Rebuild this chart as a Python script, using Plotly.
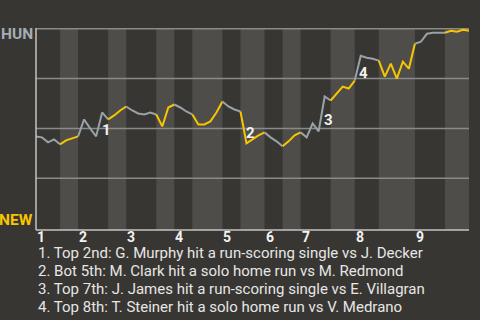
import plotly.graph_objects as go

# ---------------- data ----------------
# cumulative plate-appearance index at the end of each half inning
half_inning_ends = [0, 4, 7, 12, 15, 20, 23, 26, 31, 34, 38, 41, 44, 49, 53, 57, 63, 68, 72]
inning_labels = ["1", "2", "3", "4", "5", "6", "7", "8", "9"]
# HUN win probability (%) after each plate appearance
win_prob = [46, 45.5, 43, 44.5, 42, 44, 45, 46, 54.5, 50,
            46, 58, 54.5, 56.5, 59, 61, 59, 57.5, 57, 58,
            57, 51, 60.5, 62, 60.5, 58.5, 57, 52, 52, 53.5,
            58, 63.5, 61, 59.5, 58.5, 42.5, 44.5, 46.5, 48, 45.5,
            43.5, 41, 43.5, 46.5, 48, 45.5, 52.5, 48.5, 66, 64,
            67.5, 71, 70, 74, 86.5, 85.5, 85, 84, 76, 82.5,
            75, 83.5, 80, 92.5, 93.5, 97.5, 98, 98, 98, 99,
            98.5, 99.5, 99]
event_marks = ["1", "2", "3", "4"]
event_index = [11, 35, 48, 54]
event_texts = [
    "Top 2nd: G. Murphy hit a run-scoring single vs J. Decker",
    "Bot 5th: M. Clark hit a solo home run vs M. Redmond",
    "Top 7th: J. James hit a run-scoring single vs E. Villagran",
    "Top 8th: T. Steiner hit a solo home run vs V. Medrano",
]
team_top = "HUN"
team_bottom = "NEW"

# ---------------- style ----------------
BG = "#383632"
BAND = "#4e4d4a"
GRID = "#8a8a88"
AXIS = "#c4c4c4"
YELLOW = "#f7c600"
GRAY = "#9aa2a7"

W, H = 480, 320
L, R, T, B = 36, 469, 28, 230  # plot area in pixels
px = lambda x: (x - L) / (R - L)
py = lambda y: (B - y) / (B - T)

fig = go.Figure()

# line, one segment per half inning (top halves gray, bottom halves yellow)
for k in range(len(half_inning_ends) - 1):
    a, b = half_inning_ends[k], half_inning_ends[k + 1]
    fig.add_trace(go.Scatter(
        x=list(range(a, b + 1)), y=win_prob[a:b + 1], mode="lines",
        line=dict(color=GRAY if k % 2 == 0 else YELLOW, width=2),
        hoverinfo="skip", showlegend=False))

shapes = []
# lighter bands for bottom halves
for k in range(1, len(half_inning_ends) - 1, 2):
    shapes.append(dict(type="rect", xref="x", yref="paper",
                       x0=half_inning_ends[k], x1=half_inning_ends[k + 1],
                       y0=0, y1=1, fillcolor=BAND, line=dict(width=0), layer="below"))
# horizontal grid lines
for yv in [100, 75, 50, 25]:
    shapes.append(dict(type="line", xref="paper", yref="y", x0=0, x1=1,
                       y0=yv, y1=yv, line=dict(color=GRID, width=1.5), layer="below"))
# axes
shapes.append(dict(type="line", xref="paper", yref="paper", x0=0, x1=0, y0=0, y1=1,
                   line=dict(color=AXIS, width=1.5)))
shapes.append(dict(type="line", xref="paper", yref="paper", x0=0, x1=1, y0=0, y1=0,
                   line=dict(color=AXIS, width=1.5)))

annotations = []
# inning labels at start of each top half
for i, lab in enumerate(inning_labels):
    annotations.append(dict(x=half_inning_ends[2 * i], y=py(237), xref="x", yref="paper",
                            text=f"<b>{lab}</b>", showarrow=False, xanchor="left",
                            yanchor="middle", xshift=-1,
                            font=dict(family="Roboto", size=14, color="#f2f2f2")))
# team labels
annotations.append(dict(x=px(35), y=py(33.5), xref="paper", yref="paper",
                        text=f"<b>{team_top}</b>", showarrow=False, xanchor="right",
                        yanchor="middle", font=dict(family="Roboto", size=15.5, color="#a6adb2")))
annotations.append(dict(x=px(35), y=py(219.5), xref="paper", yref="paper",
                        text=f"<b>{team_bottom}</b>", showarrow=False, xanchor="right",
                        yanchor="middle", font=dict(family="Roboto", size=15.5, color=YELLOW)))
# event markers
mark_offsets = [(0.7, -9), (0.7, 5), (0.7, -12), (0.5, -8.5)]
for m, idx, (dx, dy) in zip(event_marks, event_index, mark_offsets):
    annotations.append(dict(x=idx + dx, y=win_prob[idx] + dy, xref="x", yref="y",
                            text=f"<b>{m}</b>", showarrow=False, xanchor="center",
                            yanchor="middle", font=dict(family="Roboto", size=15, color="#f2f2f2")))
# event descriptions
for i, (m, t) in enumerate(zip(event_marks, event_texts)):
    annotations.append(dict(x=px(36), y=py(253 + 18 * i), xref="paper", yref="paper",
                            text=f"{m}. {t}", showarrow=False, xanchor="left",
                            yanchor="middle", font=dict(family="Roboto", size=15, color="#e6e6e6")))

fig.update_layout(
    width=W, height=H,
    margin=dict(l=L, r=W - R, t=T, b=H - B, pad=0),
    paper_bgcolor=BG, plot_bgcolor=BG,
    shapes=shapes, annotations=annotations,
    xaxis=dict(range=[0, 72], showgrid=False, zeroline=False, showticklabels=False,
               showline=False, fixedrange=True),
    yaxis=dict(range=[-1, 100.4], showgrid=False, zeroline=False, showticklabels=False,
               showline=False, fixedrange=True),
    showlegend=False,
)

fig.write_html("out.html", config={"displayModeBar": False})
